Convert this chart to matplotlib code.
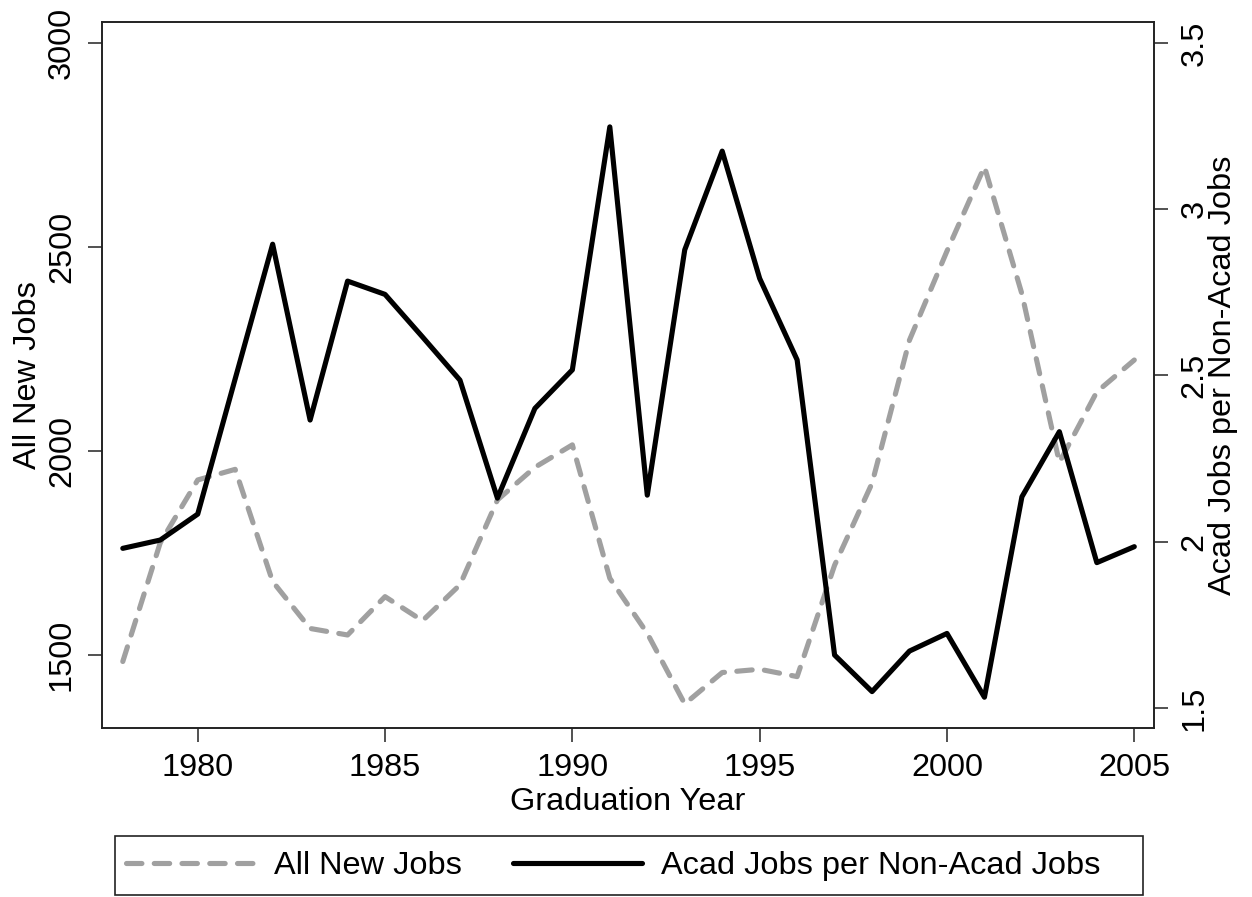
import matplotlib
matplotlib.use('Agg')
import matplotlib.pyplot as plt
from matplotlib.patches import Rectangle

plt.rcParams['font.family'] = ['Liberation Sans', 'DejaVu Sans']

# ---- data ----
years = list(range(1978, 2006))
all_new_jobs = [1484, 1775, 1929, 1955, 1680, 1565, 1549, 1643, 1584, 1672,
                1880, 1960, 2015, 1688, 1553, 1380, 1457, 1465, 1447, 1720,
                1921, 2272, 2490, 2697, 2385, 1972, 2145, 2223]
acad_ratio = [1.980, 2.005, 2.083, 2.49, 2.895, 2.366, 2.784, 2.744, 2.616, 2.486,
              2.131, 2.401, 2.517, 3.248, 2.140, 2.878, 3.175, 2.792, 2.547, 1.659,
              1.549, 1.671, 1.724, 1.532, 2.135, 2.331, 1.937, 1.985]
x_ticks = [1980, 1985, 1990, 1995, 2000, 2005]
left_ticks = [1500, 2000, 2500, 3000]
right_ticks = [1.5, 2, 2.5, 3, 3.5]
right_tick_labels = ['1.5', '2', '2.5', '3', '3.5']
label_left = 'All New Jobs'
label_right = 'Acad Jobs per Non-Acad Jobs'

FS = 23.4
W, H = 1252, 897
fig = plt.figure(figsize=(W / 100, H / 100), dpi=100)
ax = fig.add_axes([102 / W, 1 - 728.3 / H, (1154.3 - 102) / W, (728.3 - 22.3) / H])
ax2 = ax.twinx()

l1, = ax.plot(years, all_new_jobs, color='#a0a0a0', lw=3.7, dashes=(3.0, 2.4),
              dash_capstyle='round', solid_joinstyle='round', label=label_left)
l2, = ax2.plot(years, acad_ratio, color='black', lw=3.7,
               solid_joinstyle='round', solid_capstyle='round', label=label_right)

ax.set_xlim(1977.445, 2005.534)
ax.set_ylim(1320.3, 3050.7)
ax2.set_ylim(1.4386, 3.5626)

ax.set_xticks(x_ticks)
ax.set_xticklabels([str(v) for v in x_ticks], fontsize=FS)
ax.set_yticks(left_ticks)
ax.set_yticklabels([str(v) for v in left_ticks], rotation=90, va='center', fontsize=FS)
ax2.set_yticks(right_ticks)
ax2.set_yticklabels(right_tick_labels, rotation=90, va='center', fontsize=FS)

for a in (ax, ax2):
    a.tick_params(direction='out', length=10, width=1.1, color='#222222')
    for s in a.spines.values():
        s.set_linewidth(1.2)
        s.set_color('#222222')
ax.tick_params(axis='x', pad=7.5)
ax.tick_params(axis='y', pad=8)
ax2.tick_params(axis='y', pad=8)

ax.set_xlabel('Graduation Year', fontsize=FS, labelpad=3)
ax.set_ylabel(label_left, fontsize=FS)
ax.yaxis.set_label_coords(-0.056, 0.5)
ax2.set_ylabel(label_right, fontsize=FS)
ax2.yaxis.set_label_coords(1.051, 0.5)

fig.legend([l1, l2], [label_left, label_right], loc='center left',
           bbox_to_anchor=(126 / W, 1 - 866 / H), frameon=False, ncol=2,
           handlelength=3.96, handletextpad=0.59, columnspacing=1.58,
           borderpad=0, borderaxespad=0, fontsize=FS)
fig.add_artist(Rectangle((114.6 / W, 1 - 895 / H), (1142.7 - 114.6) / W, (895 - 836) / H,
                         transform=fig.transFigure, fill=False, lw=1.2, ec='#222222'))

fig.savefig('out.png', dpi=100)
